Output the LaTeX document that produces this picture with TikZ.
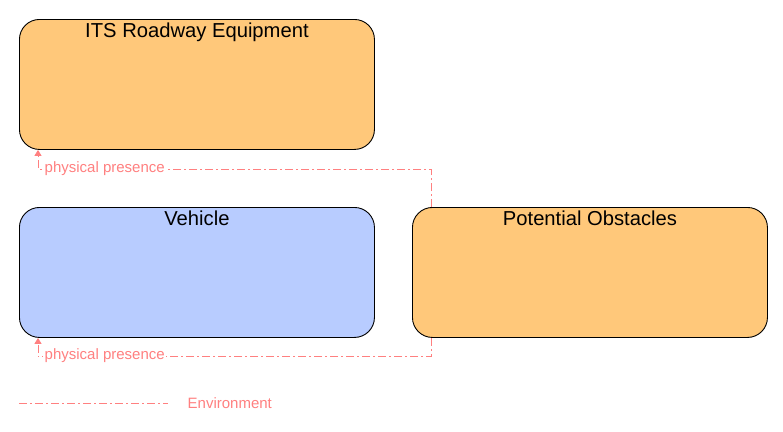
\documentclass[tikz,border=0pt]{standalone}
\usepackage{fontspec}
\setmainfont{Liberation Sans}
\usetikzlibrary{arrows.meta}
\definecolor{elemorange}{RGB}{255,200,122}
\definecolor{elemblue}{RGB}{184,204,255}
\definecolor{envline}{RGB}{255,128,128}
\tikzset{
  elem/.style={draw=black, line width=0.9pt, rounded corners=20pt, minimum width=355pt, minimum height=130pt, anchor=north west, inner sep=0pt},
  envflow/.style={draw=envline, line width=0.9pt, dash pattern=on 8pt off 3pt on 2pt off 3pt, -{Triangle[width=7pt,length=6pt]}},
  envleg/.style={draw=envline, line width=0.9pt, dash pattern=on 8pt off 3pt on 2pt off 3pt},
  flowlabel/.style={text=envline, font=\fontsize{15}{17}\selectfont, fill=white, inner sep=1.5pt, anchor=west},
  titletext/.style={font=\fontsize{20.2}{23}\selectfont, anchor=base, yshift=-18pt}
}
\begin{document}
\begin{tikzpicture}[x=1pt,y=-1pt]
\useasboundingbox (0,0) rectangle (783,431);
\node[elem, fill=elemorange, label={[titletext]north:ITS Roadway Equipment}] (its) at (19,19) {};
\node[elem, fill=elemblue, label={[titletext]north:Vehicle}] (veh) at (19,207) {};
\node[elem, fill=elemorange, label={[titletext]north:Potential Obstacles}] (obs) at (412,207) {};
\draw[envflow] ([xshift=19pt]obs.north west) -- ++(0,-38) -| ([xshift=19pt]its.south west);
\node[flowlabel] (l1) at (43,169) {physical presence};
\draw[envflow] ([xshift=19pt]obs.south west) -- ++(0,19) -| ([xshift=19pt]veh.south west);
\node[flowlabel] (l2) at (43,356) {physical presence};
\coordinate (lega) at (19,403);
\coordinate (legb) at (168,403);
\draw[envleg] (lega) -- (legb);
\node[flowlabel, fill=none, anchor=west] (legt) at (186,403) {Environment};
\end{tikzpicture}
\end{document}
